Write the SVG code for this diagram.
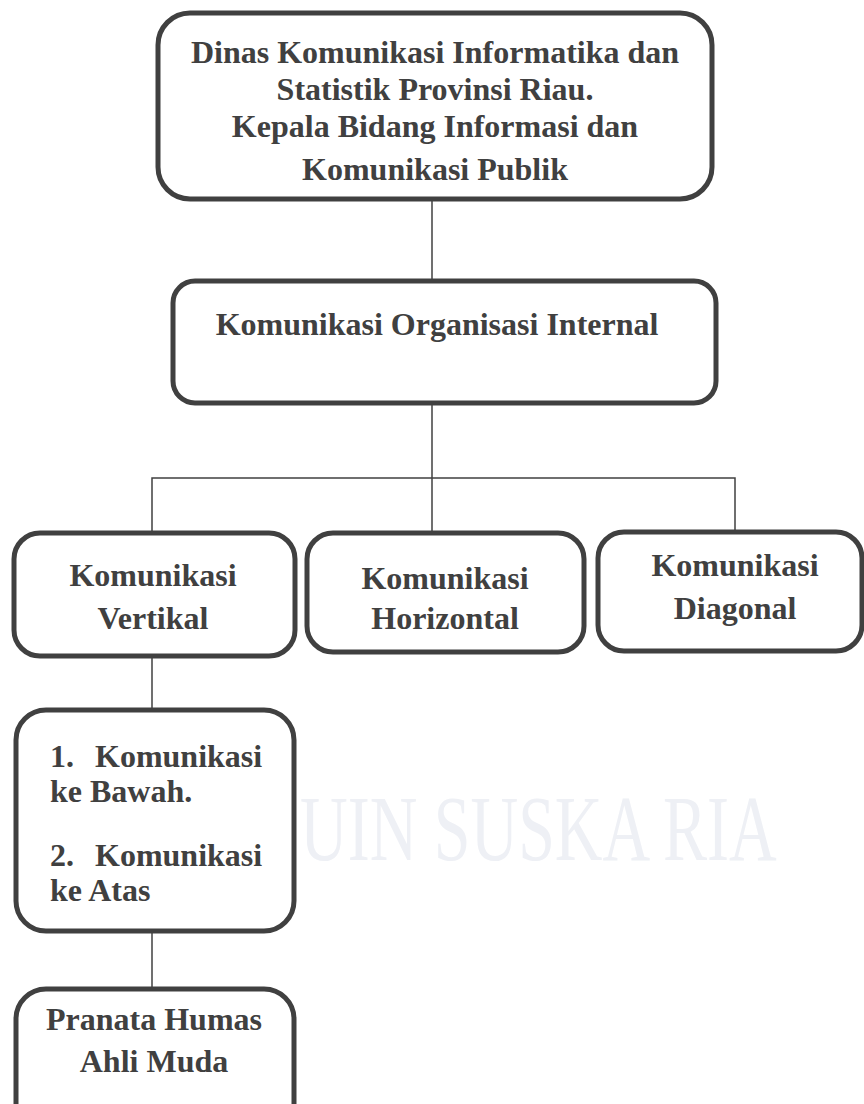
<svg xmlns="http://www.w3.org/2000/svg" width="864" height="1104" viewBox="0 0 864 1104">
<style>
.box{fill:#ffffff;stroke:#404040;stroke-width:5}
.t{font-family:"Liberation Serif","Times New Roman",serif;font-weight:bold;fill:#404040;font-size:32px}
.tc{text-anchor:middle}
.c{stroke:#404040;stroke-width:1.5;fill:none}
.wm{font-family:"Liberation Serif","Times New Roman",serif;fill:#eef0f5;font-size:66px}
</style>
<rect width="864" height="1104" fill="#ffffff"/>
<text class="wm" transform="translate(300,860) scale(1,1.4)" x="0" y="0">UIN SUSKA RIA</text>
<g id="connectors">
<line class="c" x1="432" y1="200" x2="432" y2="280"/>
<line class="c" x1="432" y1="404" x2="432" y2="531"/>
<polyline class="c" points="152,531 152,478 735,478 735,531"/>
<line class="c" x1="152" y1="657" x2="152" y2="708"/>
<line class="c" x1="152" y1="932" x2="152" y2="987"/>
</g>
<g id="n1">
<rect class="box" x="158" y="13" width="554" height="186" rx="32"/>
<text class="t tc" x="435" y="63">Dinas Komunikasi Informatika dan</text>
<text class="t tc" x="435" y="100">Statistik Provinsi Riau.</text>
<text class="t tc" x="435" y="137">Kepala Bidang Informasi dan</text>
<text class="t tc" x="435" y="180">Komunikasi Publik</text>
</g>
<g id="n2">
<rect class="box" x="173" y="281" width="543" height="122" rx="22"/>
<text class="t tc" x="437" y="335">Komunikasi Organisasi Internal</text>
</g>
<g id="n3">
<rect class="box" x="14" y="533" width="281" height="123" rx="26"/>
<text class="t tc" x="153" y="586">Komunikasi</text>
<text class="t tc" x="153" y="629">Vertikal</text>
</g>
<g id="n4">
<rect class="box" x="307" y="533" width="277" height="119" rx="26"/>
<text class="t tc" x="445" y="589">Komunikasi</text>
<text class="t tc" x="445" y="629">Horizontal</text>
</g>
<g id="n5">
<rect class="box" x="598" y="532" width="264" height="119" rx="26"/>
<text class="t tc" x="735" y="576">Komunikasi</text>
<text class="t tc" x="735" y="619">Diagonal</text>
</g>
<g id="n6">
<rect class="box" x="16" y="710" width="278" height="221" rx="30"/>
<text class="t" x="50" y="767">1.<tspan x="95">Komunikasi</tspan></text>
<text class="t" x="50" y="802">ke Bawah.</text>
<text class="t" x="50" y="866">2.<tspan x="95">Komunikasi</tspan></text>
<text class="t" x="50" y="901">ke Atas</text>
</g>
<g id="n7">
<rect class="box" x="16" y="989" width="278" height="150" rx="30"/>
<text class="t tc" x="154" y="1030">Pranata Humas</text>
<text class="t tc" x="154" y="1072">Ahli Muda</text>
</g>
</svg>
